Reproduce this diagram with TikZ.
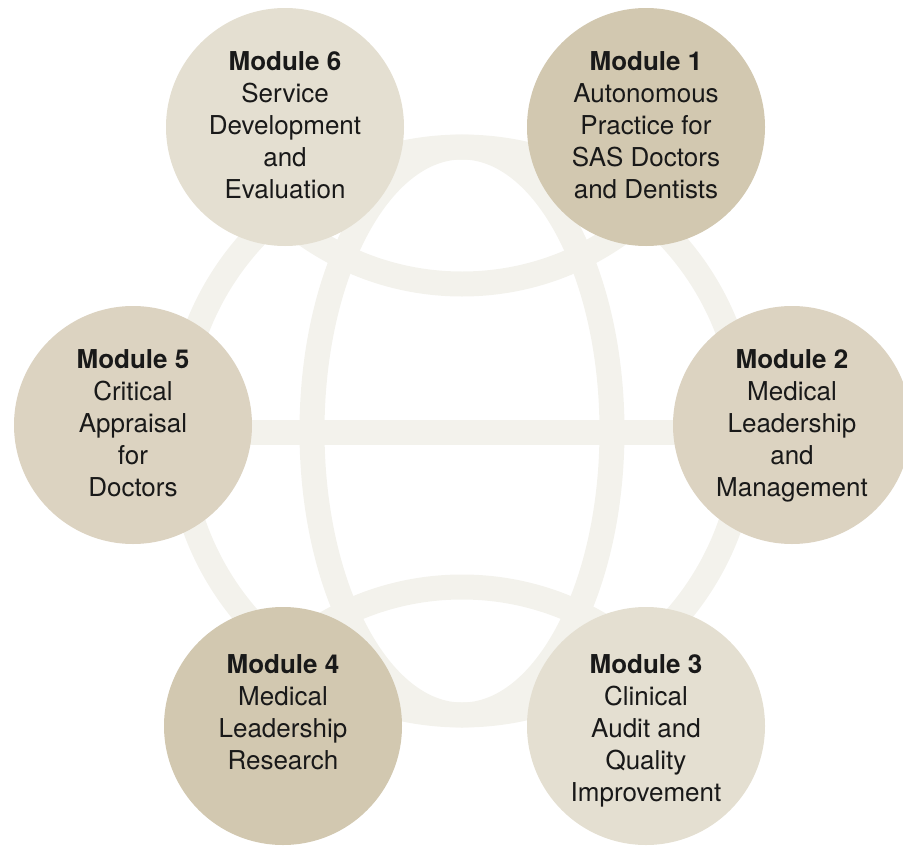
\documentclass[tikz,border=0pt]{standalone}
\usepackage{fontspec}
\setmainfont{TeX Gyre Heros}
\usetikzlibrary{positioning}

\definecolor{globe}{HTML}{F3F2EC}
\definecolor{pale}{HTML}{E4DFD1}
\definecolor{mid}{HTML}{DCD3C1}
\definecolor{dark}{HTML}{D2C8B0}

\tikzset{
    module/.style={circle, minimum size=238pt, inner sep=0pt},
    modtext/.style={align=center, font=\fontsize{26}{32}\selectfont, text=black!90},
    ring/.style={draw=globe, line width=25pt}
}

\begin{document}
\begin{tikzpicture}[x=1pt, y=-1pt]
            \useasboundingbox (0,0) rectangle (903,846);

            \coordinate (centre) at (462,431);

            \begin{scope}
                \clip (centre) circle[radius=284pt];
                \draw[ring] (462,12) circle[radius=272pt];
                \draw[ring] (462,859) circle[radius=272pt];
                \draw[ring] (150,432) -- (780,432);
            \end{scope}
            \draw[ring] (centre) ellipse[x radius=150pt, y radius=284pt];
            \draw[ring] (centre) circle[radius=284pt];

            \node[module, fill=dark] (m1) at (646,127) {};
            \node[module, fill=mid] (m2) at (792,425) {};
            \node[module, fill=pale] (m3) at (646,726) {};
            \node[module, fill=dark] (m4) at (283,726) {};
            \node[module, fill=mid] (m5) at (133,425) {};
            \node[module, fill=pale] (m6) at (285,127) {};

            \node[modtext] (t1) at (646,125) {\textbf{Module 1}\\Autonomous\\Practice for\\SAS Doctors\\and Dentists};
            \node[modtext] (t2) at (792,426) {\textbf{Module 2}\\Medical\\Leadership\\and\\Management};
            \node[modtext] (t3) at (646,731) {\textbf{Module 3}\\Clinical\\Audit and\\Quality\\Improvement};
            \node[modtext] (t4) at (283,712) {\textbf{Module 4}\\Medical\\Leadership\\Research};
            \node[modtext] (t5) at (133,423) {\textbf{Module 5}\\Critical\\Appraisal\\for\\Doctors};
            \node[modtext] (t6) at (285,125) {\textbf{Module 6}\\Service\\Development\\and\\Evaluation};
        \end{tikzpicture}
\end{document}
